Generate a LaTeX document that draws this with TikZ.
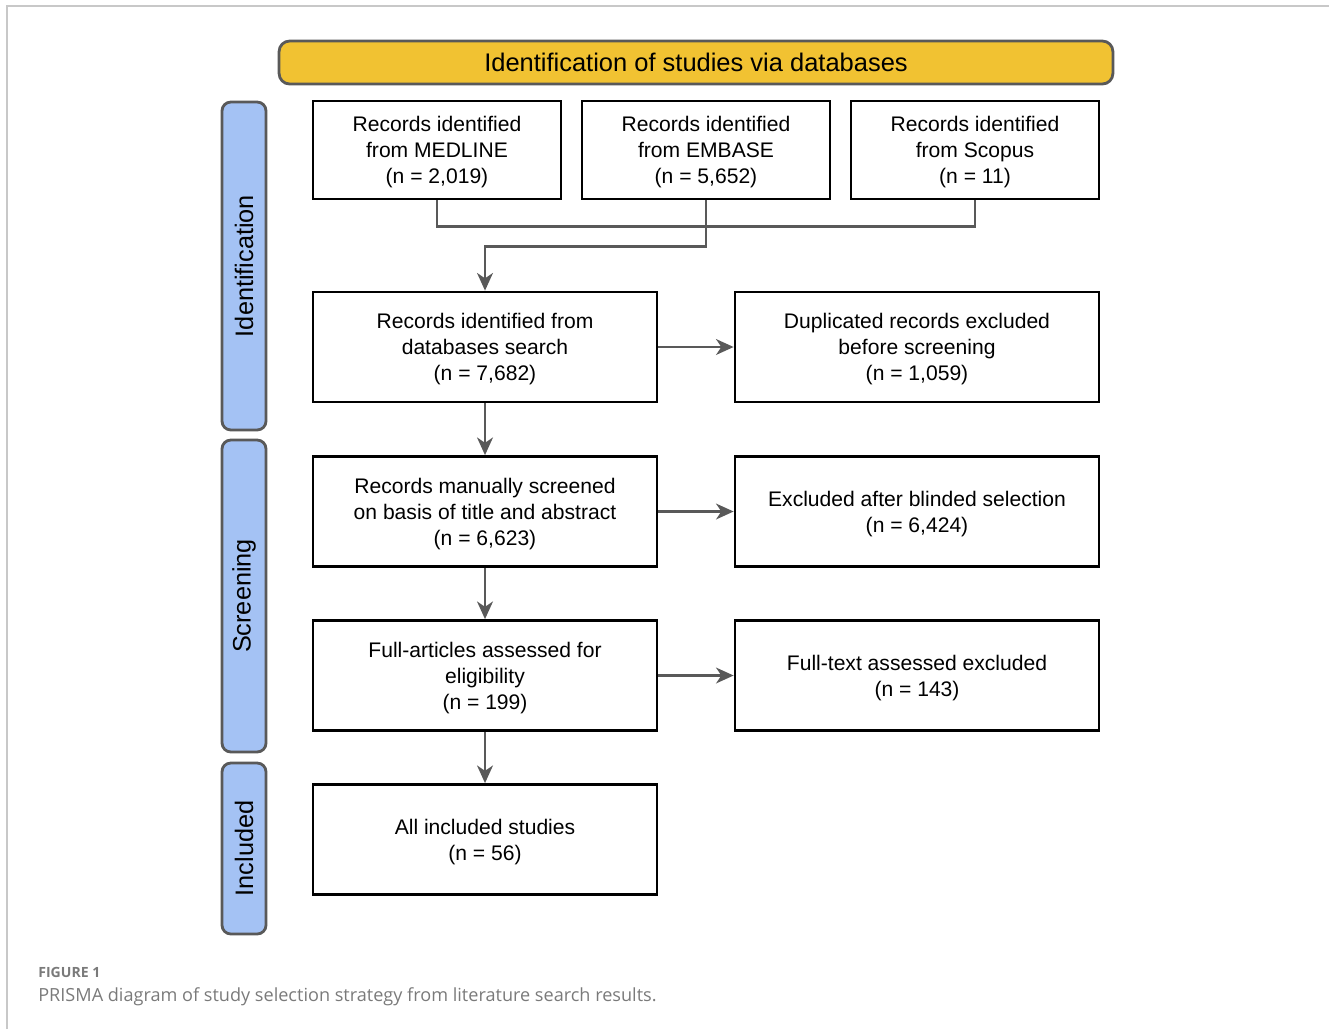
\documentclass[tikz,border=0pt]{standalone}
\usepackage{fontspec}
\setmainfont{Liberation Sans}
\newfontfamily\capfont{Open Sans}
\usepackage{tikz}
\usetikzlibrary{positioning,shapes,arrows,arrows.meta}
\definecolor{hdryellow}{HTML}{F1C232}
\definecolor{sideblue}{HTML}{A4C2F4}
\definecolor{edgegray}{HTML}{595959}
\definecolor{framegray}{HTML}{C8C8C8}
\definecolor{capgray}{HTML}{7A7A7A}
\tikzstyle{box} = [rectangle, draw=black, line width=1.6pt, align=center, inner sep=2pt, text depth=-1pt, font=\fontsize{12}{14.8}\selectfont]
\tikzstyle{srcbox} = [box, minimum width=4.96cm, minimum height=1.96cm]
\tikzstyle{mainbox} = [box, minimum width=6.88cm, minimum height=2.2cm]
\tikzstyle{exclbox} = [box, minimum width=7.28cm, minimum height=2.2cm]
\tikzstyle{phase} = [rectangle, rounded corners=5pt, draw=edgegray, line width=1.6pt, fill=sideblue, rotate=90, minimum height=0.88cm, font=\fontsize{14.4}{16}\selectfont]
\tikzstyle{header} = [rectangle, rounded corners=6pt, draw=edgegray, line width=1.6pt, fill=hdryellow, minimum width=16.68cm, minimum height=0.86cm, font=\fontsize{14.5}{17}\selectfont]
\tikzstyle{arrow} = [line width=1.4pt, draw=edgegray, -{Stealth[length=10pt, width=9pt, inset=3pt]}]
\tikzstyle{link} = [line width=1.4pt, draw=edgegray]

\begin{document}
\begin{tikzpicture}[x=0.02cm, y=-0.02cm]
            \useasboundingbox (0,0) rectangle (1329,1029);
            \draw[framegray, line width=0.8pt] (7,1029) -- (7,6) -- (1329,6);

            \node[header] (head) at (696,62.5) {Identification of studies via databases};

            \node[phase, minimum width=6.56cm] (phid) at (244,266) {Identification};
            \node[phase, minimum width=6.24cm] (phscr) at (244,596) {Screening};
            \node[phase, minimum width=3.42cm] (phinc) at (244,848.5) {Included};

            \node[srcbox] (medline) at (437,150) {Records identified\\from MEDLINE\\(n = 2,019)};
            \node[srcbox] (embase) at (706,150) {Records identified\\from EMBASE\\(n = 5,652)};
            \node[srcbox] (scopus) at (975,150) {Records identified\\from Scopus\\(n = 11)};

            \node[mainbox] (dbsearch) at (485,347) {Records identified from\\databases search\\(n = 7,682)};
            \node[exclbox] (dupl) at (917,347) {Duplicated records excluded\\before screening\\(n = 1,059)};
            \node[mainbox] (screened) at (485,511.5) {Records manually screened\\on basis of title and abstract\\(n = 6,623)};
            \node[exclbox] (blinded) at (917,511.5) {Excluded after blinded selection\\(n = 6,424)};
            \node[mainbox] (fullart) at (485,675.5) {Full-articles assessed for\\eligibility\\(n = 199)};
            \node[exclbox] (ftexcl) at (917,675.5) {Full-text assessed excluded\\(n = 143)};
            \node[mainbox] (included) at (485,839.5) {All included studies\\(n = 56)};

            \draw[link] (medline.south) -- ++(0,26) -| (scopus.south);
            \draw[arrow] (embase.south) -- ++(0,46) -| (dbsearch.north);
            \draw[arrow] (dbsearch) -- (dupl);
            \draw[arrow] (dbsearch) -- (screened);
            \draw[arrow] (screened) -- (blinded);
            \draw[arrow] (screened) -- (fullart);
            \draw[arrow] (fullart) -- (ftexcl);
            \draw[arrow] (fullart) -- (included);

            \node[anchor=base west, inner sep=0pt, text=capgray, font=\capfont\bfseries\fontsize{8}{10}\selectfont] (fignum) at (38,977) {FIGURE 1};
            \node[anchor=base west, inner sep=0pt, text=capgray, font=\capfont\fontsize{10.3}{12}\selectfont] (figcap) at (38,1001) {PRISMA diagram of study selection strategy from literature search results.};
\end{tikzpicture}
\end{document}
